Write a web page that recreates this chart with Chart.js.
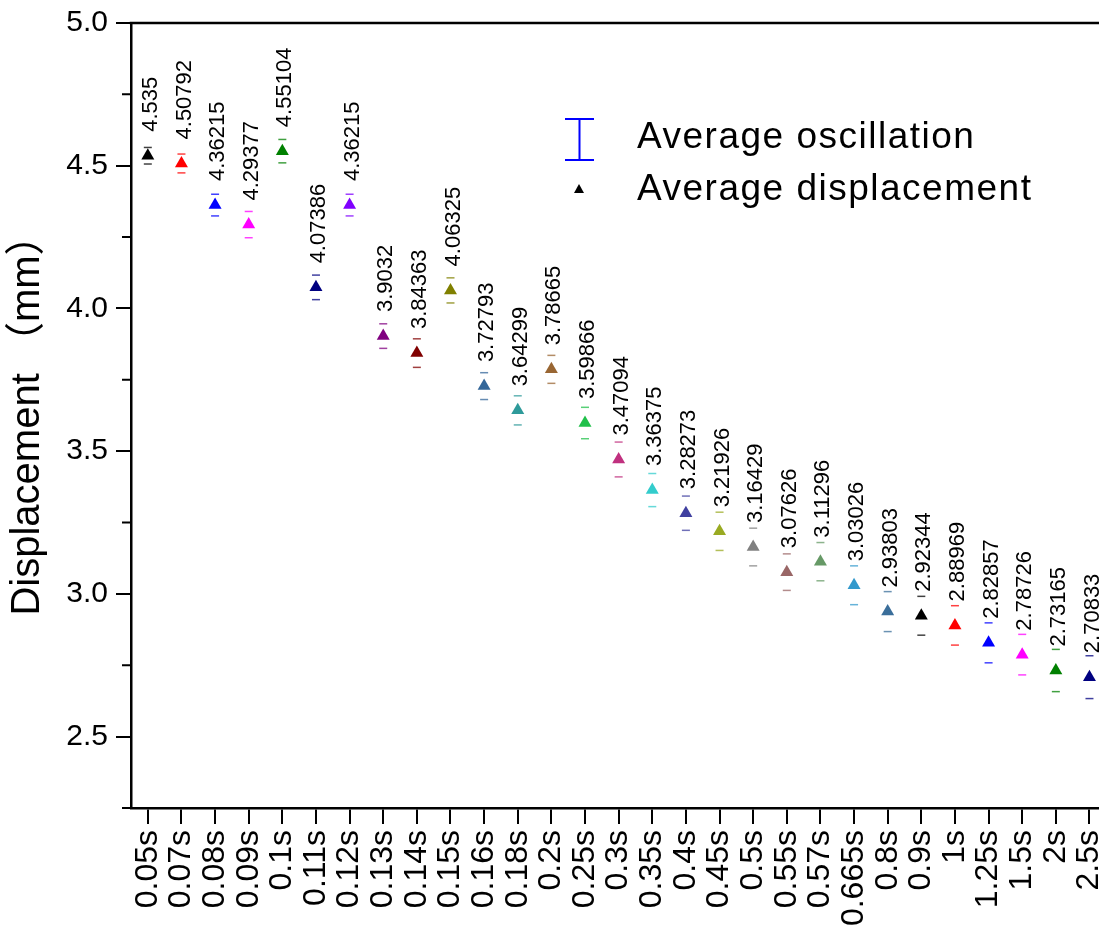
<!DOCTYPE html>
<html>
<head>
<meta charset="utf-8">
<title>Displacement</title>
<script src="https://cdn.jsdelivr.net/npm/chart.js@4.4.1/dist/chart.umd.min.js"></script>
<style>
  html, body { margin: 0; padding: 0; background: #fff; overflow: hidden; }
  #chart { display: block; }
</style>
</head>
<body>
<canvas id="chart" width="1134" height="931"></canvas>
<script>
// sampling intervals on the x axis
const intervals = ['0.05s', '0.07s', '0.08s', '0.09s', '0.1s', '0.11s', '0.12s', '0.13s', '0.14s', '0.15s',
  '0.16s', '0.18s', '0.2s', '0.25s', '0.3s', '0.35s', '0.4s', '0.45s', '0.5s', '0.55s',
  '0.57s', '0.665s', '0.8s', '0.9s', '1s', '1.25s', '1.5s', '2s', '2.5s'];

// average displacement (mm)
const displacement = [4.535, 4.50792, 4.36215, 4.29377, 4.55104, 4.07386, 4.36215, 3.9032, 3.84363, 4.06325,
  3.72793, 3.64299, 3.78665, 3.59866, 3.47094, 3.36375, 3.28273, 3.21926, 3.16429, 3.07626,
  3.11296, 3.03026, 2.93803, 2.92344, 2.88969, 2.82857, 2.78726, 2.73165, 2.70833];

// average oscillation (half range, mm)
const oscillation = [0.029, 0.033, 0.038, 0.046, 0.041, 0.043, 0.038, 0.043, 0.05, 0.044,
  0.047, 0.051, 0.049, 0.055, 0.061, 0.058, 0.06, 0.067, 0.066, 0.064,
  0.067, 0.068, 0.07, 0.068, 0.069, 0.07, 0.071, 0.074, 0.075];

const markerColors = ['#000000', '#FF0000', '#0000FF', '#FF00FF', '#008000', '#000080', '#8000FF', '#800080', '#800000', '#808000',
  '#336699', '#2E9A9A', '#996633', '#20C04A', '#C0307F', '#33CCCC', '#4040A0', '#99AA22', '#808080', '#996666',
  '#669966', '#3399CC', '#3A6E9A', '#000000', '#FF0000', '#0000FF', '#FF00FF', '#008000', '#000080'];

const yTicks = [2.5, 3.0, 3.5, 4.0, 4.5, 5.0];
const yMinorTicks = [2.25, 2.75, 3.25, 3.75, 4.25, 4.75];

const FONT = '"Liberation Sans", Arial, "Noto Sans CJK SC", sans-serif';

// top/right frame lines and the short minor ticks on the y axis
const frame = {
  id: 'frame',
  afterDraw(chart) {
    const { ctx, chartArea: a, scales: { y } } = chart;
    ctx.save();
    ctx.strokeStyle = '#000';
    ctx.lineWidth = 2.5;
    ctx.beginPath();
    ctx.moveTo(a.left - 1.25, a.top);
    ctx.lineTo(a.right, a.top);
    ctx.lineTo(a.right, a.bottom);
    ctx.stroke();
    ctx.lineWidth = 2;
    ctx.beginPath();
    yMinorTicks.forEach(v => {
      const py = y.getPixelForValue(v);
      ctx.moveTo(a.left - 9, py);
      ctx.lineTo(a.left, py);
    });
    ctx.stroke();
    ctx.restore();
  }
};

// error bar caps (no stem), same colour as the marker
const errorCaps = {
  id: 'errorCaps',
  afterDatasetsDraw(chart) {
    const { ctx, scales: { y } } = chart;
    const pts = chart.getDatasetMeta(0).data;
    ctx.save();
    ctx.lineWidth = 1.5;
    ctx.globalAlpha = 0.75;
    pts.forEach((p, i) => {
      ctx.strokeStyle = markerColors[i];
      [displacement[i] + oscillation[i], displacement[i] - oscillation[i]].forEach(v => {
        const py = y.getPixelForValue(v);
        ctx.beginPath();
        ctx.moveTo(p.x - 4, py);
        ctx.lineTo(p.x + 4, py);
        ctx.stroke();
      });
    });
    ctx.restore();
  }
};

// vertical value labels above each marker
const valueLabels = {
  id: 'valueLabels',
  afterDatasetsDraw(chart) {
    const { ctx } = chart;
    const pts = chart.getDatasetMeta(0).data;
    ctx.save();
    ctx.font = '22px ' + FONT;
    ctx.fillStyle = '#000';
    ctx.textAlign = 'left';
    ctx.textBaseline = 'middle';
    pts.forEach((p, i) => {
      ctx.save();
      ctx.translate(p.x + 3, p.y - 24);
      ctx.rotate(-Math.PI / 2);
      ctx.fillText(String(displacement[i]), 0, 0);
      ctx.restore();
    });
    ctx.restore();
  }
};

// legend: error bar symbol + triangle marker
const legendBox = {
  id: 'legendBox',
  afterDraw(chart) {
    const { ctx } = chart;
    ctx.save();
    ctx.strokeStyle = '#0000FF';
    ctx.lineWidth = 2;
    ctx.beginPath();
    ctx.moveTo(565, 119); ctx.lineTo(594, 119);
    ctx.moveTo(579.5, 119); ctx.lineTo(579.5, 160);
    ctx.moveTo(565, 160); ctx.lineTo(594, 160);
    ctx.stroke();

    ctx.fillStyle = '#000';
    ctx.beginPath();
    ctx.moveTo(579, 184);
    ctx.lineTo(584, 193);
    ctx.lineTo(574, 193);
    ctx.closePath();
    ctx.fill();

    ctx.font = '37px ' + FONT;
    ctx.letterSpacing = '1.5px';
    ctx.textAlign = 'left';
    ctx.textBaseline = 'alphabetic';
    ctx.fillText('Average oscillation', 637, 148);
    ctx.fillText('Average displacement', 637, 200);
    ctx.restore();
  }
};

new Chart(document.getElementById('chart'), {
  type: 'line',
  data: {
    labels: intervals,
    datasets: [{
      label: 'Average displacement',
      data: displacement,
      showLine: false,
      pointStyle: 'triangle',
      pointRadius: 7.5,
      pointHoverRadius: 7.5,
      pointBackgroundColor: markerColors,
      pointBorderColor: markerColors,
      pointBorderWidth: 0
    }]
  },
  options: {
    responsive: false,
    animation: false,
    events: [],
    layout: { padding: { top: 23, right: 0, left: 0, bottom: 0 } },
    plugins: {
      legend: { display: false },
      tooltip: { enabled: false }
    },
    scales: {
      x: {
        type: 'category',
        offset: true,
        grid: { offset: false, drawOnChartArea: false, tickLength: 16, color: '#000', lineWidth: 2 },
        border: { display: true, color: '#000', width: 2.5 },
        ticks: {
          autoSkip: false, minRotation: 90, maxRotation: 90, padding: 6,
          color: '#000', font: { family: FONT, size: 32 }
        },
        afterFit(scale) { scale.height = 123; }
      },
      y: {
        min: 2.25,
        max: 5.0,
        grid: { drawOnChartArea: false, tickLength: 15, color: '#000', lineWidth: 2 },
        border: { display: true, color: '#000', width: 2.5 },
        ticks: {
          padding: 8, color: '#000', font: { family: FONT, size: 30, lineHeight: 1 },
          callback: v => Number(v).toFixed(1)
        },
        afterBuildTicks(scale) { scale.ticks = yTicks.map(value => ({ value })); },
        title: {
          display: true,
          text: 'Displacement （mm）',
          color: '#000',
          font: { family: FONT, size: 40 },
          padding: { top: 4, bottom: 0 }
        },
        afterFit(scale) { scale.width = 131; }
      }
    }
  },
  plugins: [frame, errorCaps, valueLabels, legendBox]
});
</script>
</body>
</html>
